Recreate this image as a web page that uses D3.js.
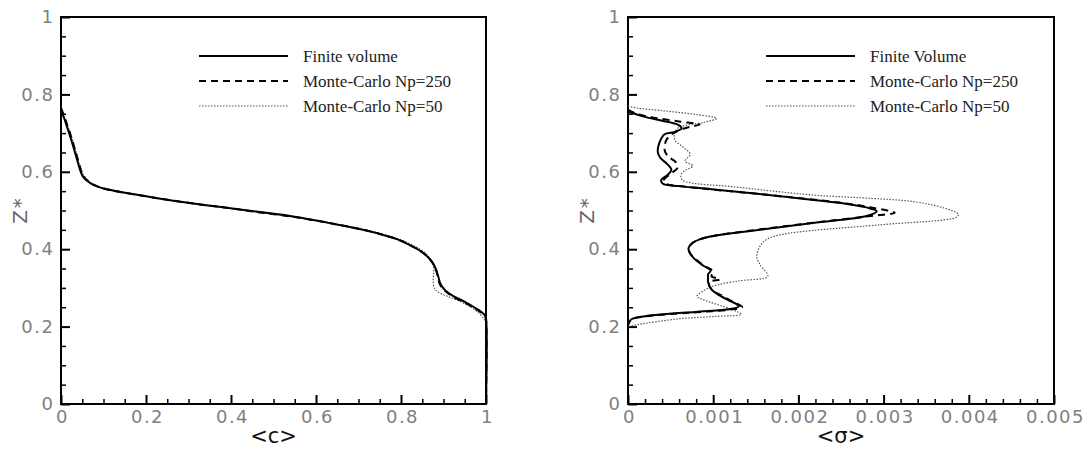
<!DOCTYPE html>
<html>
<head>
<meta charset="utf-8">
<script src="https://cdn.jsdelivr.net/npm/d3@7"></script>
<style>
  html, body { margin: 0; padding: 0; background: #fff; }
  svg { display: block; }
</style>
</head>
<body>
<svg id="chart" width="1089" height="450"></svg>
<script>
// ---------------- DATA ----------------
const seriesNamesLeft  = ["Finite volume", "Monte-Carlo Np=250", "Monte-Carlo Np=50"];
const seriesNamesRight = ["Finite Volume", "Monte-Carlo Np=250", "Monte-Carlo Np=50"];

const cTicks     = [0, 0.2, 0.4, 0.6, 0.8, 1];
const cTickLabels = ["0", "0.2", "0.4", "0.6", "0.8", "1"];
const sigmaTicks = [0, 0.001, 0.002, 0.003, 0.004, 0.005];
const sigmaTickLabels = ["0", "0.001", "0.002", "0.003", "0.004", "0.005"];
const zTicks     = [0, 0.2, 0.4, 0.6, 0.8, 1];
const zTickLabels = ["0", "0.2", "0.4", "0.6", "0.8", "1"];

// <c> vs Z*  ([c, z])
const cFiniteVolume = [
  [0,0.762],[0.01,0.73],[0.022,0.69],[0.033,0.65],[0.042,0.615],[0.047,0.598],
  [0.052,0.587],[0.062,0.576],[0.076,0.566],[0.1,0.557],[0.155,0.545],[0.22,0.533],
  [0.311,0.518],[0.39,0.507],[0.468,0.496],[0.55,0.484],[0.63,0.468],[0.7,0.453],
  [0.745,0.441],[0.79,0.426],[0.822,0.41],[0.845,0.396],[0.862,0.381],[0.875,0.364],
  [0.883,0.346],[0.888,0.328],[0.893,0.31],[0.903,0.295],[0.923,0.279],[0.948,0.265],
  [0.972,0.25],[0.99,0.237],[0.998,0.228],[1,0.222],[1,0]
];
const cMonteCarlo250 = [
  [0,0.765],[0.012,0.73],[0.024,0.69],[0.035,0.65],[0.044,0.615],[0.049,0.598],
  [0.054,0.587],[0.064,0.576],[0.078,0.566],[0.1,0.557],[0.155,0.545],[0.22,0.533],
  [0.311,0.518],[0.39,0.507],[0.468,0.495],[0.55,0.483],[0.63,0.468],[0.7,0.453],
  [0.745,0.441],[0.79,0.426],[0.822,0.41],[0.846,0.395],[0.863,0.38],[0.876,0.362],
  [0.883,0.344],[0.887,0.326],[0.892,0.308],[0.903,0.293],[0.923,0.277],[0.948,0.263],
  [0.972,0.248],[0.99,0.235],[0.998,0.226],[1,0.218],[1,0]
];
const cMonteCarlo50 = [
  [0,0.755],[0.015,0.72],[0.028,0.68],[0.038,0.64],[0.046,0.61],[0.052,0.594],
  [0.058,0.583],[0.068,0.573],[0.082,0.564],[0.105,0.556],[0.16,0.544],[0.225,0.532],
  [0.315,0.517],[0.395,0.506],[0.472,0.494],[0.555,0.482],[0.635,0.467],[0.705,0.452],
  [0.752,0.44],[0.8,0.424],[0.833,0.407],[0.855,0.392],[0.868,0.376],[0.876,0.358],
  [0.877,0.34],[0.876,0.325],[0.876,0.312],[0.879,0.298],[0.889,0.288],[0.91,0.278],
  [0.939,0.265],[0.965,0.25],[0.986,0.232],[0.996,0.218],[1,0.208],[1,0]
];

// <sigma> vs Z*  ([sigma, z])
const sFiniteVolume = [
  [0,0.757],[0.00005,0.752],[0.0002,0.742],[0.0004,0.732],[0.00059,0.721],
  [0.00063,0.712],[0.00055,0.703],[0.00043,0.697],[0.00037,0.676],[0.00035,0.65],
  [0.00038,0.636],[0.00046,0.62],[0.00051,0.606],[0.00047,0.593],[0.00039,0.579],
  [0.00041,0.569],[0.0006,0.563],[0.00098,0.555],[0.00178,0.537],[0.00254,0.518],
  [0.0028,0.508],[0.00292,0.498],[0.0028,0.486],[0.00217,0.468],[0.00139,0.446],
  [0.00105,0.436],[0.00085,0.426],[0.00075,0.415],[0.00071,0.402],[0.00073,0.389],
  [0.00078,0.375],[0.00088,0.358],[0.00097,0.345],[0.00094,0.335],[0.00094,0.325],
  [0.00094,0.316],[0.00098,0.296],[0.00108,0.28],[0.00118,0.268],[0.00128,0.257],
  [0.0013,0.252],[0.00118,0.245],[0.0008,0.238],[0.00059,0.235],[0.0002,0.227],
  [0.00004,0.219],[0,0.205]
];
const sMonteCarlo250 = [
  [0,0.76],[0.0001,0.75],[0.0003,0.74],[0.0006,0.73],[0.00084,0.722],
  [0.00072,0.716],[0.00063,0.71],[0.00052,0.698],[0.00045,0.682],[0.00043,0.656],
  [0.00047,0.64],[0.00056,0.625],[0.00058,0.61],[0.0005,0.595],[0.00042,0.578],
  [0.00045,0.569],[0.00065,0.562],[0.001,0.554],[0.0018,0.537],[0.0026,0.517],
  [0.0029,0.506],[0.00313,0.494],[0.0029,0.487],[0.0022,0.469],[0.0014,0.447],
  [0.00105,0.436],[0.00085,0.426],[0.00075,0.415],[0.00071,0.402],[0.00073,0.389],
  [0.00079,0.375],[0.0009,0.356],[0.001,0.343],[0.00098,0.33],[0.00108,0.322],
  [0.00095,0.315],[0.00098,0.296],[0.0011,0.28],[0.0012,0.268],[0.0013,0.257],
  [0.00134,0.25],[0.0012,0.244],[0.0008,0.237],[0.0006,0.234],[0.0002,0.226],
  [0.00004,0.218],[0,0.204]
];
const sMonteCarlo50 = [
  [0,0.77],[0.0001,0.765],[0.0004,0.758],[0.0008,0.748],[0.00104,0.738],
  [0.0009,0.728],[0.00059,0.714],[0.00055,0.7],[0.00055,0.682],[0.00064,0.665],
  [0.00073,0.645],[0.00067,0.628],[0.00076,0.615],[0.00066,0.602],[0.00062,0.59],
  [0.00064,0.578],[0.00075,0.571],[0.0012,0.562],[0.00217,0.54],[0.0028,0.532],
  [0.00335,0.523],[0.0037,0.507],[0.00388,0.49],[0.00385,0.482],[0.00372,0.476],
  [0.00296,0.463],[0.00178,0.437],[0.00162,0.424],[0.00155,0.408],[0.00151,0.381],
  [0.00155,0.36],[0.00164,0.33],[0.0013,0.318],[0.00098,0.303],[0.00081,0.278],
  [0.00088,0.27],[0.00122,0.244],[0.00133,0.232],[0.001,0.226],[0.00059,0.22],
  [0.00011,0.205],[0,0.2]
];

// ---------------- DRAWING ----------------
const svg = d3.select("#chart");
svg.append("rect").attr("width", 1089).attr("height", 450).attr("fill", "#fff");

const styles = [
  { stroke: "#000", width: 2, dash: null },
  { stroke: "#000", width: 2, dash: "7,5" },
  { stroke: "#555", width: 1.2, dash: "1.5,1.5" }
];

function minorTicks(major, n) {
  const out = [];
  for (let i = 0; i < major.length - 1; i++) {
    const a = major[i], b = major[i + 1];
    for (let k = 1; k <= n; k++) out.push(a + (b - a) * k / (n + 1));
  }
  return out;
}

function panel(opts) {
  const x = d3.scaleLinear().domain([opts.xTicks[0], opts.xTicks[opts.xTicks.length - 1]]).range([opts.left, opts.right]);
  const y = d3.scaleLinear().domain([0, 1]).range([404, 17]);
  const g = svg.append("g");

  const labelStyle = sel => sel
    .attr("font-family", "DejaVu Sans, sans-serif")
    .attr("font-size", 18)
    .attr("letter-spacing", "1.5px")
    .attr("fill", "#808080");

  // x minor
  g.append("g").attr("transform", `translate(0,404)`)
    .call(d3.axisBottom(x).tickValues(minorTicks(opts.xTicks, opts.xMinor)).tickSize(-5).tickSizeOuter(0).tickFormat(""))
    .call(s => s.select(".domain").remove())
    .call(s => s.selectAll("line").attr("stroke", "#000").attr("stroke-width", 1.5));
  // x major
  g.append("g").attr("transform", `translate(0,404)`)
    .call(d3.axisBottom(x).tickValues(opts.xTicks).tickSize(-9).tickSizeOuter(0).tickPadding(6)
      .tickFormat((d, i) => opts.xLabels[i]))
    .call(s => s.select(".domain").remove())
    .call(s => s.selectAll("line").attr("stroke", "#000").attr("stroke-width", 2))
    .call(s => s.selectAll("text").call(labelStyle).attr("dx", "1px"));
  // y minor
  g.append("g").attr("transform", `translate(${opts.left},0)`)
    .call(d3.axisLeft(y).tickValues(minorTicks(zTicks, 3)).tickSize(-5).tickSizeOuter(0).tickFormat(""))
    .call(s => s.select(".domain").remove())
    .call(s => s.selectAll("line").attr("stroke", "#000").attr("stroke-width", 1.5));
  // y major
  g.append("g").attr("transform", `translate(${opts.left},0)`)
    .call(d3.axisLeft(y).tickValues(zTicks).tickSize(-9).tickSizeOuter(0).tickPadding(8)
      .tickFormat((d, i) => zTickLabels[i]))
    .call(s => s.select(".domain").remove())
    .call(s => s.selectAll("line").attr("stroke", "#000").attr("stroke-width", 2))
    .call(s => s.selectAll("text").call(labelStyle).attr("dx", "1.5px"));

  // frame
  g.append("rect")
    .attr("x", opts.left).attr("y", 17)
    .attr("width", opts.right - opts.left).attr("height", 387)
    .attr("fill", "none").attr("stroke", "#000").attr("stroke-width", 2);

  // series
  const line = d3.line().x(d => x(d[0])).y(d => y(d[1])).curve(d3.curveCatmullRom.alpha(0.5));
  const seriesOrder = [2, 1, 0];
  seriesOrder.forEach(i => {
    g.append("path").datum(opts.series[i])
      .attr("d", line)
      .attr("fill", "none")
      .attr("stroke", styles[i].stroke)
      .attr("stroke-width", styles[i].width)
      .attr("stroke-dasharray", styles[i].dash)
      .attr("stroke-linejoin", "round");
  });

  // legend
  const legY = [56, 81, 106];
  opts.names.forEach((name, i) => {
    g.append("line")
      .attr("x1", opts.legX).attr("x2", opts.legX + 89)
      .attr("y1", legY[i]).attr("y2", legY[i])
      .attr("stroke", styles[i].stroke)
      .attr("stroke-width", styles[i].width)
      .attr("stroke-dasharray", styles[i].dash);
    g.append("text")
      .attr("x", opts.legX + 104).attr("y", legY[i])
      .attr("dy", "0.35em")
      .attr("font-family", "Liberation Serif, serif")
      .attr("font-size", 17)
      .attr("fill", "#222")
      .text(name);
  });

  // axis titles
  g.append("text")
    .attr("x", (opts.left + opts.right) / 2).attr("y", 436)
    .attr("dy", "0.35em")
    .attr("text-anchor", "middle")
    .attr("font-family", "DejaVu Sans, sans-serif")
    .attr("font-size", 21)
    .attr("fill", "#111")
    .text(opts.xTitle);
  g.append("text")
    .attr("transform", `translate(${opts.left - 41},210) rotate(-90)`)
    .attr("dy", "0.35em")
    .attr("text-anchor", "middle")
    .attr("font-family", "DejaVu Sans, sans-serif")
    .attr("font-size", 20)
    .attr("letter-spacing", "2px")
    .attr("fill", "#666")
    .text("Z*");
}

panel({
  left: 61, right: 486,
  xTicks: cTicks, xLabels: cTickLabels, xMinor: 3,
  series: [cFiniteVolume, cMonteCarlo250, cMonteCarlo50],
  names: seriesNamesLeft, legX: 199, xTitle: "<c>"
});
panel({
  left: 628, right: 1054,
  xTicks: sigmaTicks, xLabels: sigmaTickLabels, xMinor: 4,
  series: [sFiniteVolume, sMonteCarlo250, sMonteCarlo50],
  names: seriesNamesRight, legX: 766, xTitle: "<σ>"
});
</script>
</body>
</html>
